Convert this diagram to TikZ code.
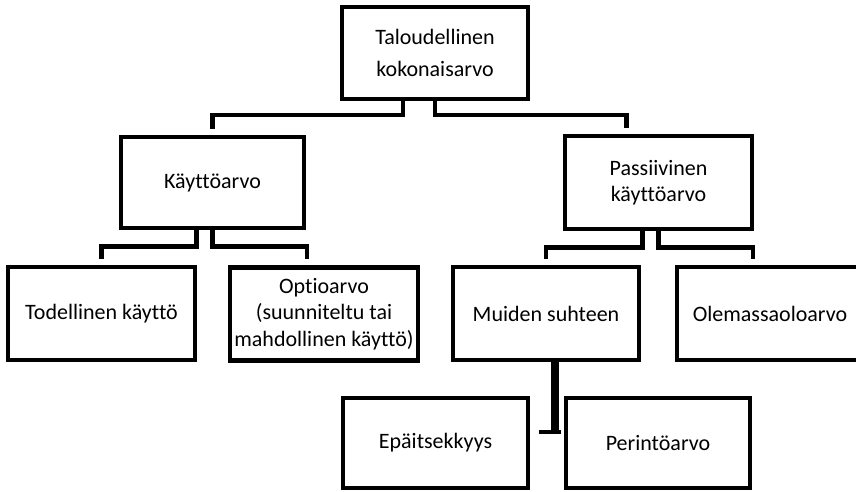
\documentclass[tikz,border=0pt]{standalone}
\usepackage{fontspec}
\setmainfont{Carlito}[Ligatures=NoCommon]
\usetikzlibrary{calc}
\begin{document}
\begin{tikzpicture}[x=1pt,y=-1pt,
  box/.style={draw, line width=4.5pt, minimum width=186pt, minimum height=92pt,
    align=center, inner sep=2pt, font=\fontsize{22}{26.5}\selectfont},
  conn/.style={line width=4.5pt, line join=miter},
  thickconn/.style={line width=8pt}]
\useasboundingbox (0,0) rectangle (856,492);
\node[box] (top) at (435,53) {Taloudellinen\\[6pt]kokonaisarvo};
\node[box, minimum width=183pt, minimum height=91pt] (kaytto) at (212.5,182.5) {Käyttöarvo};
\node[box, minimum width=187pt, minimum height=93pt] (pass) at (658.5,182.5) {Passiivinen\\käyttöarvo};
\node[box, minimum width=187pt, minimum height=93pt] (tod) at (101.5,313.5) {Todellinen käyttö};
\node[box, minimum width=188pt, minimum height=93pt] (opt) at (324,314) {Optioarvo\\(suunniteltu tai\\mahdollinen käyttö)};
\node[box, minimum height=93pt] (mui) at (546,313.5) {Muiden suhteen};
\node[box, minimum height=93pt] (ole) at (770,313.5) {Olemassaoloarvo};
\node[box, minimum width=185pt, minimum height=90pt] (epa) at (435.5,443) {Epäitsekkyys};
\node[box, minimum width=184pt, minimum height=90pt] (per) at (658,443) {Perintöarvo};

\draw[conn] ($(top.south)+(-32,0)$) -- ++(0,14) -| ($(kaytto.north)+(0,-6)$);
\draw[conn] (top.south) -- ++(0,14) -| ($(pass.north)+(-32,-6)$);

\draw[conn] ($(kaytto.south)+(-16,0)$) -- ++(0,16) -| ($(tod.north)+(0,-6)$);
\draw[conn] (kaytto.south) -- ++(0,16) -| ($(opt.north)+(-17,-6)$);

\draw[conn] ($(pass.south)+(-16,0)$) -- ++(0,16) -| ($(mui.north)+(0,-6)$);
\draw[conn] (pass.south) -- ++(0,16) -| ($(ole.north)+(-17,-6)$);

\coordinate (mj) at ($(mui.south)+(9,0)$);
\coordinate (jl) at ($(epa.east)+(9,-11)$);
\coordinate (jr) at ($(per.west)+(-3,-11)$);
\draw[conn] (jl) -- (jr);
\draw[thickconn] (mj) -- (mj |- jl);
\end{tikzpicture}
\end{document}
